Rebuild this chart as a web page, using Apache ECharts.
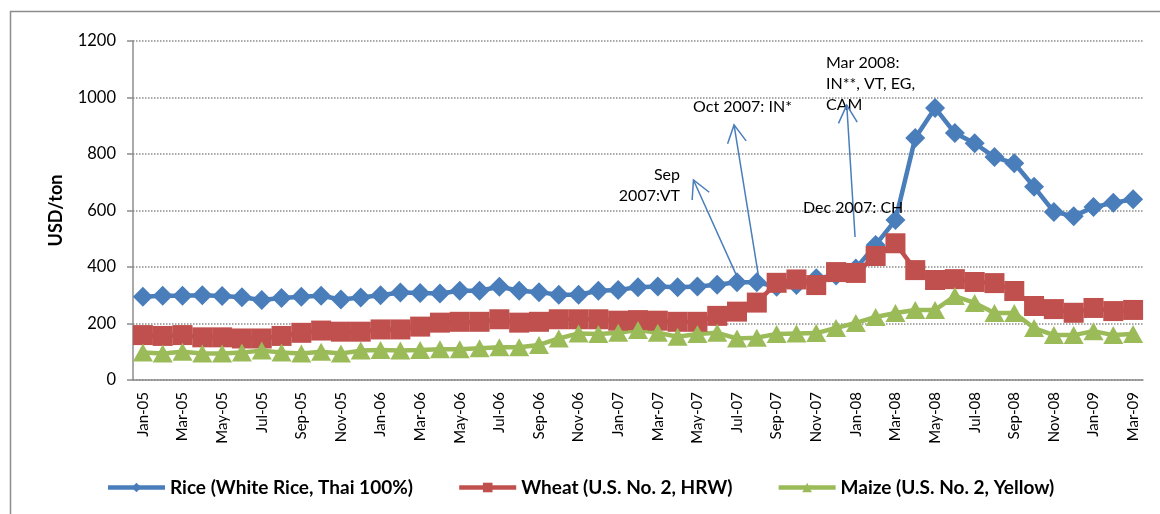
<!DOCTYPE html>
<html>
<head>
<meta charset="utf-8">
<script src="https://cdn.jsdelivr.net/npm/echarts@6/dist/echarts.min.js"></script>
<style>
  html, body { margin: 0; padding: 0; background: #fff; }
  #main { width: 1160px; height: 514px; }
</style>
</head>
<body>
<div id="main"></div>
<script>
// monthly export prices, USD/ton, Jan-05 .. Mar-09
var months = [
  'Jan-05', 'Feb-05', 'Mar-05', 'Apr-05', 'May-05', 'Jun-05', 'Jul-05', 'Aug-05', 'Sep-05', 'Oct-05', 'Nov-05', 'Dec-05',
  'Jan-06', 'Feb-06', 'Mar-06', 'Apr-06', 'May-06', 'Jun-06', 'Jul-06', 'Aug-06', 'Sep-06', 'Oct-06', 'Nov-06', 'Dec-06',
  'Jan-07', 'Feb-07', 'Mar-07', 'Apr-07', 'May-07', 'Jun-07', 'Jul-07', 'Aug-07', 'Sep-07', 'Oct-07', 'Nov-07', 'Dec-07',
  'Jan-08', 'Feb-08', 'Mar-08', 'Apr-08', 'May-08', 'Jun-08', 'Jul-08', 'Aug-08', 'Sep-08', 'Oct-08', 'Nov-08', 'Dec-08',
  'Jan-09', 'Feb-09', 'Mar-09'
];
var seriesNames = ['Rice (White Rice, Thai 100%)', 'Wheat (U.S. No. 2, HRW)', 'Maize (U.S. No. 2, Yellow)'];
var rice = [
  295, 298, 298, 300, 297, 293, 283, 290, 295, 298, 285, 292,
  300, 310, 308, 306, 316, 316, 330, 316, 311, 302, 302, 316,
  319, 328, 331, 328, 331, 337, 346, 346, 330, 336, 360, 370,
  395, 478, 566, 857, 963, 874, 838, 789, 767, 684, 595, 580,
  612, 627, 640
];
var wheat = [
  159, 156, 159, 151, 151, 147, 147, 156, 167, 175, 171, 171,
  179, 179, 189, 203, 206, 206, 215, 203, 206, 215, 215, 215,
  210, 212, 210, 206, 206, 227, 242, 274, 344, 356, 336, 382,
  379, 439, 484, 389, 354, 357, 347, 343, 315, 262, 251, 238,
  255, 244, 248
];
var maize = [
  97, 94, 100, 94, 94, 97, 104, 97, 94, 100, 94, 104,
  106, 104, 106, 109, 109, 112, 116, 116, 124, 147, 165, 163,
  167, 177, 167, 153, 163, 167, 147, 150, 163, 165, 166, 184,
  202, 223, 237, 248, 248, 297, 273, 237, 237, 184, 159, 159,
  173, 159, 163
];
var yTicks = [0, 200, 400, 600, 800, 1000, 1200];

// export restriction notes: arrow tail [cat index, value], arrow tip, text anchor
var notes = [
  { text: 'Sep\n2007:VT', align: 'right', at: [27.12, 689], tail: [30.0, 366], tip: [27.8, 708] },
  { text: 'Oct 2007: IN*', align: 'left', at: [27.78, 966], tail: [31.1, 361], tip: [29.85, 903] },
  { text: 'Mar 2008:\nIN**, VT, EG,\nCAM', align: 'left', at: [34.49, 1048], tail: [35.96, 506], tip: [35.54, 973] },
  { text: 'Dec 2007: CH', align: 'left', at: [33.33, 609] }
];

var colors = ['#4a7ebb', '#c0504d', '#9bbb59'];
var symbols = ['diamond', 'rect', 'triangle'];
var FONT = 'Lato, "Open Sans", sans-serif';

var chart = echarts.init(document.getElementById('main'), null, { renderer: 'canvas' });

function mkSeries(idx, data) {
  return {
    name: seriesNames[idx],
    type: 'line',
    data: data,
    symbol: symbols[idx],
    symbolSize: idx === 2 ? [20, 18] : 20,
    showAllSymbol: true,
    lineStyle: { color: colors[idx], width: 4.5 },
    itemStyle: { color: colors[idx] },
    animation: false
  };
}

var option = {
  animation: false,
  textStyle: { fontFamily: FONT },
  grid: { left: 133, right: 17, top: 41, bottom: 134, containLabel: false },
  legend: {
    bottom: 12,
    left: 'center',
    itemWidth: 57,
    itemHeight: 12,
    itemGap: 44,
    lineStyle: { width: 4.5 },
    textStyle: { fontFamily: FONT, fontWeight: 'bold', fontSize: 19, color: '#000' },
    data: seriesNames
  },
  xAxis: {
    type: 'category',
    data: months,
    boundaryGap: true,
    axisLine: { lineStyle: { color: '#8c8c8c', width: 1.5 } },
    axisTick: { interval: 1, length: 6, lineStyle: { color: '#8c8c8c', width: 1.5 } },
    axisLabel: { interval: 1, rotate: 90, margin: 12, fontSize: 15, color: '#000', fontFamily: FONT }
  },
  yAxis: {
    type: 'value',
    min: yTicks[0],
    max: yTicks[yTicks.length - 1],
    interval: 200,
    name: 'USD/ton',
    nameLocation: 'middle',
    nameGap: 68,
    nameRotate: 90,
    nameTextStyle: { fontFamily: FONT, fontWeight: 'bold', fontSize: 18, color: '#000' },
    axisLine: { show: true, lineStyle: { color: '#8c8c8c', width: 1.5 } },
    axisTick: { show: true, length: 6, lineStyle: { color: '#8c8c8c', width: 1.5 } },
    axisLabel: {
      margin: 17, fontSize: 16.5, color: '#000', fontFamily: FONT,
      formatter: function (v) { return String(v); }
    },
    splitLine: { lineStyle: { color: '#8c8c8c', type: 'dotted', width: 1.5 } }
  },
  series: [mkSeries(0, rice), mkSeries(1, wheat), mkSeries(2, maize)]
};
chart.setOption(option);

// category index may be fractional -> interpolate between neighbours
function px(ci, v) {
  var i0 = Math.floor(ci);
  var a = chart.convertToPixel({ xAxisIndex: 0, yAxisIndex: 0 }, [months[i0], v]);
  var b = chart.convertToPixel({ xAxisIndex: 0, yAxisIndex: 0 }, [months[Math.min(i0 + 1, months.length - 1)], v]);
  var t = ci - i0;
  return [a[0] + (b[0] - a[0]) * t, a[1]];
}

var graphics = [{
  type: 'rect',
  z: 0,
  silent: true,
  shape: { x: 10.5, y: 11.5, width: 1300, height: 700 },
  style: { fill: 'none', stroke: '#8c8c8c', lineWidth: 1.5 }
}];

notes.forEach(function (n) {
  var p = px(n.at[0], n.at[1]);
  graphics.push({
    type: 'text',
    z: 100,
    x: p[0],
    y: p[1],
    style: {
      text: n.text,
      fill: '#000',
      font: '16px ' + FONT,
      lineHeight: 21,
      align: n.align,
      verticalAlign: 'middle'
    }
  });
  if (!n.tail) return;
  var s = px(n.tail[0], n.tail[1]);
  var e = px(n.tip[0], n.tip[1]);
  graphics.push({
    type: 'line',
    z: 100,
    shape: { x1: s[0], y1: s[1], x2: e[0], y2: e[1] },
    style: { stroke: '#4a7ebb', lineWidth: 1.5 }
  });
  // open arrow head
  var ang = Math.atan2(s[1] - e[1], s[0] - e[0]);
  var L = 20, da = 28 * Math.PI / 180;
  graphics.push({
    type: 'polyline',
    z: 100,
    shape: {
      points: [
        [e[0] + L * Math.cos(ang - da), e[1] + L * Math.sin(ang - da)],
        [e[0], e[1]],
        [e[0] + L * Math.cos(ang + da), e[1] + L * Math.sin(ang + da)]
      ]
    },
    style: { stroke: '#4a7ebb', lineWidth: 1.5, fill: null }
  });
});

chart.setOption({ graphic: graphics });
</script>
</body>
</html>
